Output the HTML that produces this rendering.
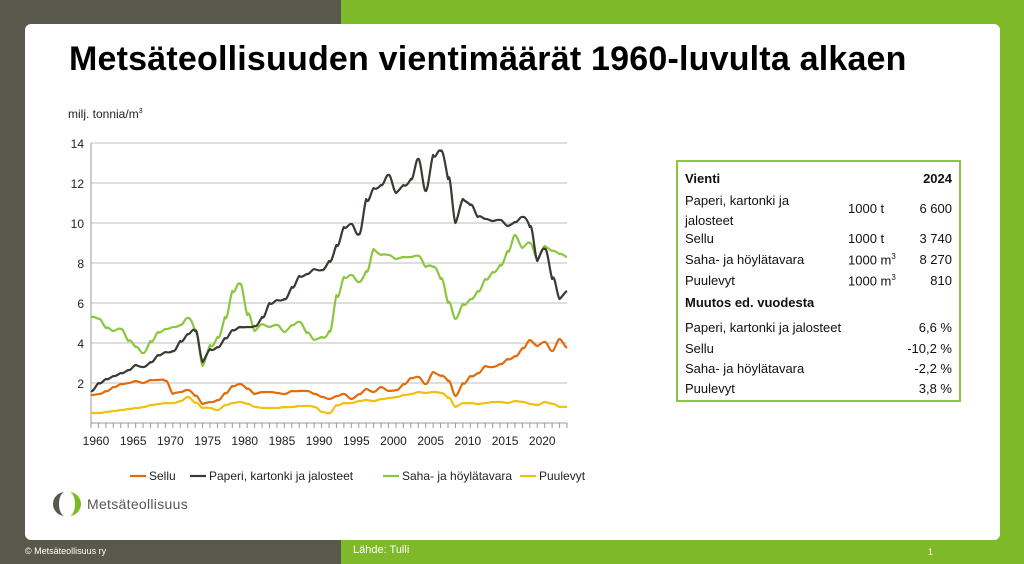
<!DOCTYPE html>
<html><head><meta charset="utf-8">
<style>
body{margin:0;width:1024px;height:564px;position:relative;overflow:hidden;font-family:"Liberation Sans",sans-serif;background:#7db928}
#dk{position:absolute;left:0;top:0;width:341px;height:564px;background:#58594b}
#card{position:absolute;left:25px;top:24px;width:975px;height:516px;background:#fff;border-radius:6px}
.t{position:absolute;white-space:nowrap}
#tbl{position:absolute;left:676px;top:160px;width:285px;height:242px;border:2px solid #8cc63f;box-sizing:border-box;font-size:13px;color:#111}
#tbl div{position:absolute;white-space:nowrap}
</style></head><body>
<div id="dk"></div>
<div id="card"></div>
<div class="t" style="left:69px;top:40px;font-size:34px;font-weight:bold;color:#000;letter-spacing:0.2px">Metsäteollisuuden vientimäärät 1960-luvulta alkaen</div>
<div class="t" style="left:68px;top:107px;font-size:12px;color:#222">milj. tonnia/m<sup style="font-size:7px">3</sup></div>
<svg id="ch" width="1024" height="564" style="position:absolute;left:0;top:0" font-family="Liberation Sans, sans-serif"></svg>
<div id="tbl">
<div style="left:7px;top:9px;font-weight:bold">Vienti</div><div style="right:7px;top:9px;font-weight:bold">2024</div>
<div style="left:7px;top:29px;line-height:20px">Paperi, kartonki ja<br>jalosteet</div><div style="left:170px;top:39px">1000 t</div><div style="right:7px;top:39px">6 600</div>
<div style="left:7px;top:69px">Sellu</div><div style="left:170px;top:69px">1000 t</div><div style="right:7px;top:69px">3 740</div>
<div style="left:7px;top:90px">Saha- ja höylätavara</div><div style="left:170px;top:90px">1000 m<sup style="font-size:8px">3</sup></div><div style="right:7px;top:90px">8 270</div>
<div style="left:7px;top:111px">Puulevyt</div><div style="left:170px;top:111px">1000 m<sup style="font-size:8px">3</sup></div><div style="right:7px;top:111px">810</div>
<div style="left:7px;top:133px;font-weight:bold">Muutos ed. vuodesta</div>
<div style="left:7px;top:158px">Paperi, kartonki ja jalosteet</div><div style="right:7px;top:158px">6,6 %</div>
<div style="left:7px;top:179px">Sellu</div><div style="right:7px;top:179px">-10,2 %</div>
<div style="left:7px;top:199px">Saha- ja höylätavara</div><div style="right:7px;top:199px">-2,2 %</div>
<div style="left:7px;top:219px">Puulevyt</div><div style="right:7px;top:219px">3,8 %</div>
</div>
<svg width="30" height="26" style="position:absolute;left:52px;top:491px">
<path d="M13 1 A12 12 0 0 0 13 25 A6 12 0 0 1 13 1Z" fill="#58594b"/>
<path d="M17 1 A12 12 0 0 1 17 25 A6 12 0 0 0 17 1Z" fill="#7db928"/>
</svg>
<div class="t" style="left:87px;top:496px;font-size:14px;color:#555;letter-spacing:0.3px">Metsäteollisuus</div>
<div class="t" style="left:25px;top:546px;font-size:9px;color:#fff">© Metsäteollisuus ry</div>
<div class="t" style="left:353px;top:544px;font-size:11px;color:#fff">Lähde: Tulli</div>
<div class="t" style="left:928px;top:547px;font-size:9px;color:#fff">1</div>
<script>
var P=[1.6,2.0,2.2,2.35,2.5,2.65,2.9,2.8,3.05,3.4,3.55,3.6,4.1,4.45,4.6,3.05,3.7,3.8,4.25,4.65,4.8,4.8,4.85,5.3,6.0,6.15,6.2,6.8,7.35,7.45,7.7,7.65,8.1,8.9,9.8,9.95,9.45,11.2,11.75,11.9,12.4,11.5,11.9,12.2,13.2,11.6,13.4,13.6,12.2,10.0,11.2,10.9,10.3,10.2,10.1,10.15,9.85,10.05,10.3,9.8,8.1,8.7,7.2,6.2,6.6];
var G=[5.3,5.2,4.75,4.6,4.7,4.1,3.8,3.5,4.1,4.55,4.7,4.8,4.9,5.25,4.6,2.85,3.9,4.3,5.3,6.6,6.95,5.4,4.6,4.95,4.8,4.9,4.55,4.9,5.05,4.5,4.15,4.3,4.6,6.4,7.3,7.4,7.05,7.6,8.7,8.4,8.4,8.2,8.3,8.3,8.35,7.8,7.8,7.2,6.0,5.2,5.95,6.2,6.6,7.2,7.55,7.9,8.6,9.4,8.75,9.0,8.2,8.85,8.6,8.45,8.3];
var O=[1.4,1.45,1.6,1.8,1.95,2.0,2.1,2.0,2.15,2.15,2.1,1.45,1.55,1.65,1.35,0.95,1.05,1.15,1.5,1.85,1.95,1.7,1.45,1.55,1.55,1.5,1.45,1.6,1.6,1.6,1.45,1.3,1.2,1.35,1.45,1.2,1.45,1.7,1.55,1.8,1.6,1.65,1.95,2.25,2.3,1.95,2.55,2.35,2.1,1.35,2.0,2.35,2.5,2.85,2.8,2.95,3.2,3.35,3.75,4.15,3.85,4.05,3.6,4.2,3.75];
var Y=[0.5,0.5,0.55,0.6,0.65,0.7,0.75,0.8,0.9,0.95,1.0,1.0,1.1,1.3,1.0,0.75,0.75,0.65,0.9,1.0,1.05,0.95,0.8,0.75,0.75,0.75,0.8,0.8,0.85,0.85,0.8,0.55,0.5,0.9,1.0,1.0,1.1,1.15,1.1,1.2,1.25,1.3,1.4,1.45,1.55,1.5,1.55,1.5,1.25,0.8,1.0,1.0,0.95,1.0,1.05,1.05,1.0,1.1,1.05,0.95,0.9,1.05,0.95,0.8,0.8];
var x0=91,x1=567,yb=423,k=20,s='';
function X(i){return x0+i*(x1-x0)/64}function V(v){return yb-v*k}
for(var g=1;g<=7;g++){var y=yb-g*40;s+='<line x1="'+x0+'" x2="'+x1+'" y1="'+y+'" y2="'+y+'" stroke="#bdbdbd" stroke-width="1"/>';s+='<text x="84" y="'+(y+5)+'" font-size="12" text-anchor="end" fill="#222">'+(g*2)+'</text>';}
s+='<line x1="'+x0+'" x2="'+x0+'" y1="143" y2="'+yb+'" stroke="#999"/><line x1="'+x0+'" x2="'+x1+'" y1="'+yb+'" y2="'+yb+'" stroke="#999"/>';
for(var i=0;i<=64;i++){s+='<line x1="'+X(i)+'" x2="'+X(i)+'" y1="'+yb+'" y2="'+(yb+5)+'" stroke="#999"/>';if(i%5==0)s+='<text x="'+(X(i)+5)+'" y="'+(yb+22)+'" font-size="12" text-anchor="middle" fill="#222">'+(1960+i)+'</text>';}
function path(d,c){var p='M'+X(0)+' '+V(d[0]);for(var i=0;i<d.length-1;i++){var a=d[Math.max(i-1,0)],b=d[i],e=d[i+1],f=d[Math.min(i+2,d.length-1)];var xs=(x1-x0)/64;p+=' C'+(X(i)+xs/3)+' '+(V(b)-(V(e)-V(a))/6)+' '+(X(i+1)-xs/3)+' '+(V(e)-(V(f)-V(b))/6)+' '+X(i+1)+' '+V(e);}return '<path d="'+p+'" fill="none" stroke="'+c+'" stroke-width="2.2" stroke-linejoin="round"/>';}
s+=path(Y,'#f2c00f')+path(O,'#e26b0a')+path(G,'#8cc63f')+path(P,'#3a3a35');
var L=[[130,'#e26b0a','Sellu'],[190,'#3a3a35','Paperi, kartonki ja jalosteet'],[383,'#8cc63f','Saha- ja höylätavara'],[520,'#f2c00f','Puulevyt']];
L.forEach(function(l){s+='<line x1="'+l[0]+'" x2="'+(l[0]+16)+'" y1="476" y2="476" stroke="'+l[1]+'" stroke-width="2.2"/><text x="'+(l[0]+19)+'" y="480" font-size="12" fill="#222">'+l[2]+'</text>';});
document.getElementById('ch').innerHTML=s;
</script>
</body></html>
